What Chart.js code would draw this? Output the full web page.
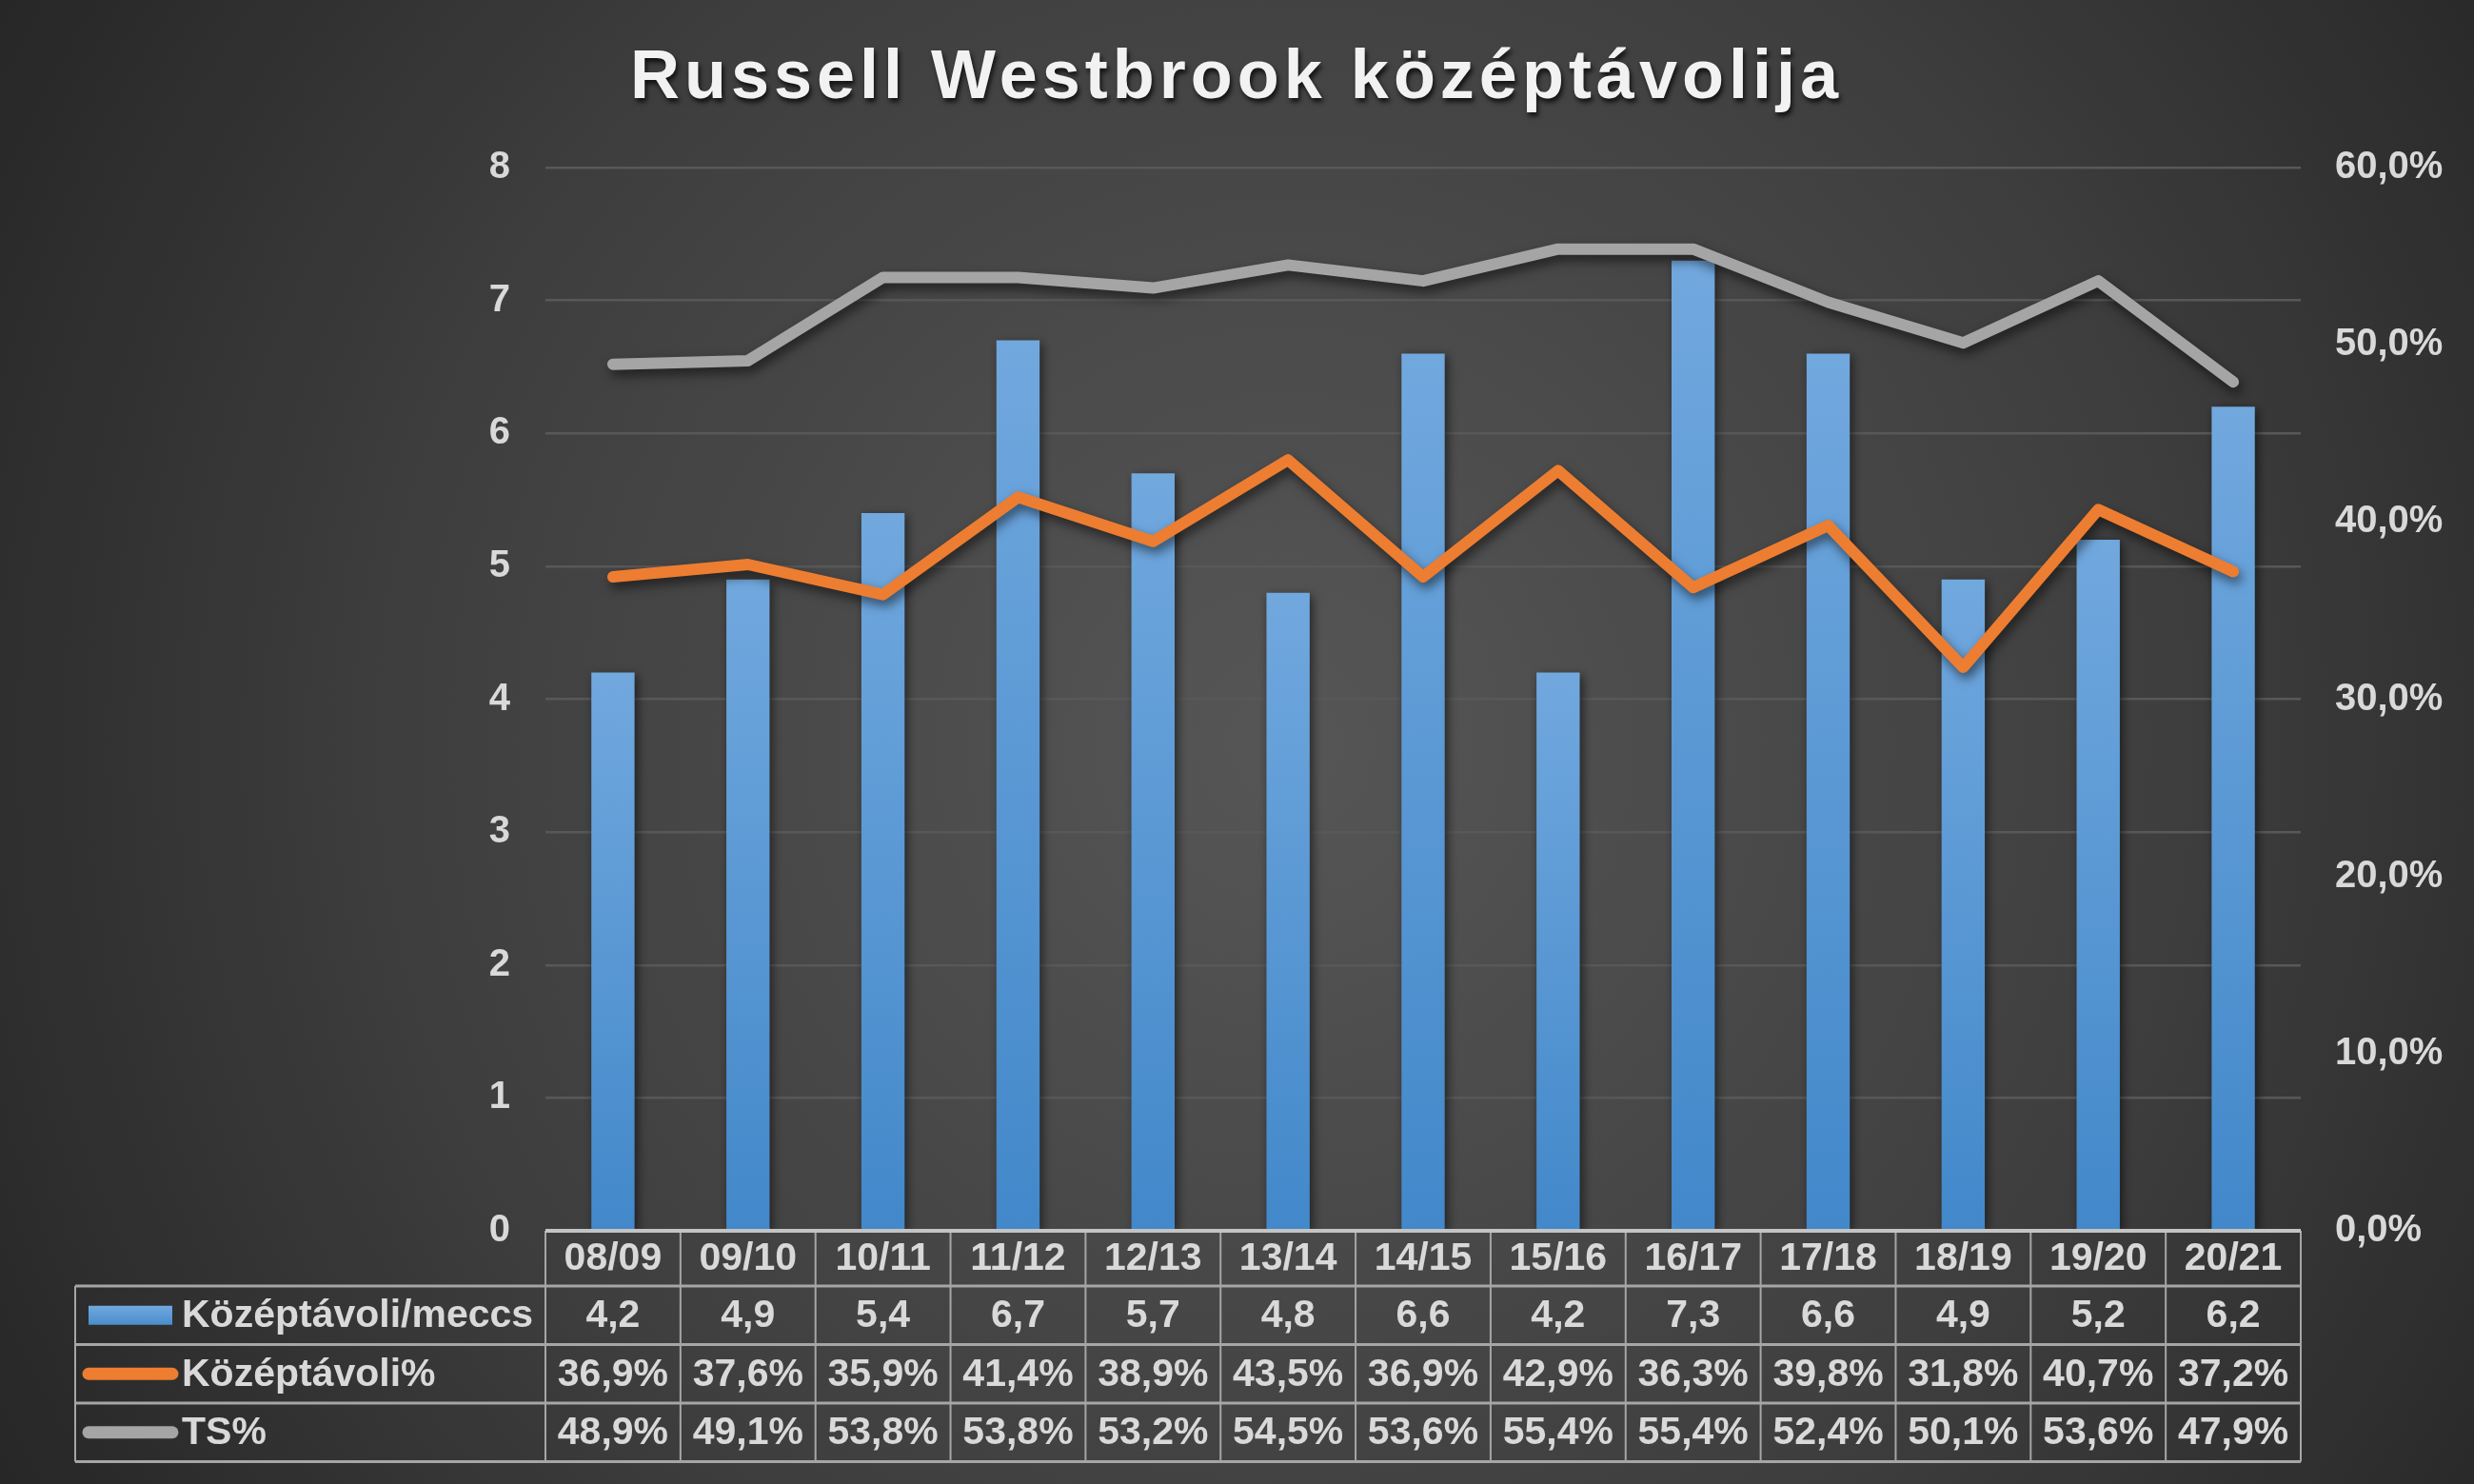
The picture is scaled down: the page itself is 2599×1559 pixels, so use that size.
<!DOCTYPE html>
<html>
<head>
<meta charset="utf-8">
<title>Russell Westbrook középtávolija</title>
<script src="https://cdn.jsdelivr.net/npm/chart.js@4.4.1/dist/chart.umd.min.js"></script>
<style>
  html, body { margin: 0; padding: 0; background: #2b2b2b; }
  canvas { display: block; }
</style>
</head>
<body>
<canvas id="midrange" width="2599" height="1559"></canvas>
<script>
var chartTitle = 'Russell Westbrook középtávolija';
var seasons = ['08/09', '09/10', '10/11', '11/12', '12/13', '13/14', '14/15', '15/16', '16/17', '17/18', '18/19', '19/20', '20/21'];
var perGame = [4.2, 4.9, 5.4, 6.7, 5.7, 4.8, 6.6, 4.2, 7.3, 6.6, 4.9, 5.2, 6.2];
var midPct = [36.9, 37.6, 35.9, 41.4, 38.9, 43.5, 36.9, 42.9, 36.3, 39.8, 31.8, 40.7, 37.2];
var tsPct = [48.9, 49.1, 53.8, 53.8, 53.2, 54.5, 53.6, 55.4, 55.4, 52.4, 50.1, 53.6, 47.9];
var seriesNames = ['Középtávoli/meccs', 'Középtávoli%', 'TS%'];

var FONT = "'Liberation Sans', Arial, sans-serif";
var TEXT = '#d9d9d9';

function fmt(v, d) {
    return v.toFixed(d).replace('.', ',');
}

Chart.defaults.font.family = FONT;
Chart.defaults.color = TEXT;

// dark radial background like the Excel style
var background = {
    id: 'background',
    beforeDraw: function(chart) {
        var ctx = chart.ctx;
        var g = ctx.createRadialGradient(1350, 780, 50, 1350, 780, 1600);
        g.addColorStop(0, '#555555');
        g.addColorStop(0.55, '#3f3f3f');
        g.addColorStop(1, '#252525');
        ctx.save();
        ctx.fillStyle = g;
        ctx.fillRect(0, 0, chart.width, chart.height);
        ctx.restore();
    }
};

// soft shadow under bars and lines
var shadows = {
    id: 'shadows',
    beforeDatasetDraw: function(chart, args) {
        var ctx = chart.ctx;
        ctx.save();
        ctx.shadowColor = 'rgba(0,0,0,0.55)';
        if (args.index === 0) {
            ctx.shadowOffsetX = 3;
            ctx.shadowOffsetY = 3;
            ctx.shadowBlur = 10;
        } else {
            ctx.shadowOffsetX = 3;
            ctx.shadowOffsetY = 6;
            ctx.shadowBlur = 12;
        }
    },
    afterDatasetDraw: function(chart) {
        chart.ctx.restore();
    }
};

var titleText = {
    id: 'titleText',
    afterDraw: function(chart) {
        var ctx = chart.ctx;
        ctx.save();
        ctx.font = 'bold 72px ' + FONT;
        ctx.letterSpacing = '5px';
        var w = ctx.measureText(chartTitle).width - 5;
        ctx.fillStyle = '#f2f2f2';
        ctx.shadowColor = 'rgba(0,0,0,0.75)';
        ctx.shadowOffsetX = 2;
        ctx.shadowOffsetY = 4;
        ctx.shadowBlur = 5;
        ctx.textBaseline = 'alphabetic';
        ctx.fillText(chartTitle, chart.width / 2 - w / 2 - 3, 103);
        ctx.restore();
    }
};

// data table under the plot, with legend keys
var dataTable = {
    id: 'dataTable',
    afterDraw: function(chart) {
        var ctx = chart.ctx, a = chart.chartArea;
        var n = seasons.length;
        var w = (a.right - a.left) / n;
        var legendLeft = 79;
        var lines = [a.bottom, a.bottom + 58, a.bottom + 119.5, a.bottom + 181, a.bottom + 242.5];
        var bottom = lines[4];

        ctx.save();
        ctx.strokeStyle = '#a6a6a6';

        ctx.lineWidth = 2;
        for (var i = 0; i <= n; i++) {
            var x = a.left + i * w;
            ctx.beginPath();
            ctx.moveTo(x, a.bottom);
            ctx.lineTo(x, bottom);
            ctx.stroke();
        }
        ctx.beginPath();
        ctx.moveTo(legendLeft, lines[1]);
        ctx.lineTo(legendLeft, bottom);
        ctx.stroke();

        ctx.lineWidth = 3;
        for (var r = 1; r < lines.length; r++) {
            ctx.beginPath();
            ctx.moveTo(legendLeft, lines[r]);
            ctx.lineTo(a.right, lines[r]);
            ctx.stroke();
        }
        ctx.strokeStyle = '#c4c4c4';
        ctx.lineWidth = 4;
        ctx.beginPath();
        ctx.moveTo(a.left, a.bottom);
        ctx.lineTo(a.right, a.bottom);
        ctx.stroke();

        ctx.fillStyle = TEXT;
        ctx.font = 'bold 41px ' + FONT;
        ctx.textAlign = 'center';
        ctx.textBaseline = 'middle';
        var rowsText = [
            seasons,
            perGame.map(function(v) { return fmt(v, 1); }),
            midPct.map(function(v) { return fmt(v, 1) + '%'; }),
            tsPct.map(function(v) { return fmt(v, 1) + '%'; })
        ];
        for (var k = 0; k < rowsText.length; k++) {
            var cy = (lines[k] + lines[k + 1]) / 2 + 1;
            for (var j = 0; j < n; j++) {
                ctx.fillText(rowsText[k][j], chart.scales.x.getPixelForValue(j), cy);
            }
        }

        // legend keys
        var keyColors = ['#5b9bd5', '#ed7d31', '#a5a5a5'];
        for (var s = 0; s < 3; s++) {
            var ky = (lines[s + 1] + lines[s + 2]) / 2;
            if (s === 0) {
                var g = ctx.createLinearGradient(0, ky - 10, 0, ky + 10);
                g.addColorStop(0, '#71a8de');
                g.addColorStop(1, '#4a8dcc');
                ctx.fillStyle = g;
                ctx.fillRect(93, ky - 10, 88, 20);
            } else {
                ctx.strokeStyle = keyColors[s];
                ctx.lineWidth = 13;
                ctx.lineCap = 'round';
                ctx.beginPath();
                ctx.moveTo(93, ky);
                ctx.lineTo(181, ky);
                ctx.stroke();
            }
            ctx.fillStyle = TEXT;
            ctx.textAlign = 'left';
            ctx.fillText(seriesNames[s], 191, ky + 1);
        }
        ctx.restore();
    }
};

var ctx = document.getElementById('midrange').getContext('2d');

var midrangeChart = new Chart(ctx, {
    type: 'bar',
    data: {
        labels: seasons,
        datasets: [{
            type: 'bar',
            label: seriesNames[0],
            data: perGame,
            yAxisID: 'y',
            order: 3,
            barPercentage: 0.32,
            categoryPercentage: 1,
            backgroundColor: function(c) {
                var chart = c.chart, area = chart.chartArea;
                if (!area || c.type !== 'data') return '#5b9bd5';
                var top = chart.scales.y.getPixelForValue(perGame[c.dataIndex]);
                var g = chart.ctx.createLinearGradient(0, top, 0, area.bottom);
                g.addColorStop(0, '#71a8de');
                g.addColorStop(1, '#4288ca');
                return g;
            }
        }, {
            type: 'line',
            label: seriesNames[1],
            data: midPct,
            yAxisID: 'y1',
            order: 1,
            borderColor: '#ed7d31',
            borderWidth: 12,
            borderCapStyle: 'round',
            borderJoinStyle: 'round',
            pointRadius: 0,
            tension: 0
        }, {
            type: 'line',
            label: seriesNames[2],
            data: tsPct,
            yAxisID: 'y1',
            order: 2,
            borderColor: '#a5a5a5',
            borderWidth: 12,
            borderCapStyle: 'round',
            borderJoinStyle: 'round',
            pointRadius: 0,
            tension: 0
        }]
    },
    options: {
        responsive: false,
        animation: false,
        layout: {
            padding: { top: 176, bottom: 266, left: 0, right: 0 }
        },
        plugins: {
            legend: { display: false },
            title: { display: false },
            tooltip: { enabled: false }
        },
        scales: {
            x: {
                display: false,
                offset: true
            },
            y: {
                position: 'left',
                min: 0,
                max: 8,
                afterFit: function(scale) { scale.width = 573; },
                border: { display: false },
                grid: { color: '#585858', lineWidth: 2.5, drawTicks: false },
                ticks: {
                    stepSize: 1,
                    padding: 37,
                    color: TEXT,
                    font: { size: 40, weight: 'bold' }
                }
            },
            y1: {
                position: 'right',
                min: 0,
                max: 60,
                afterFit: function(scale) { scale.width = 182; },
                border: { display: false },
                grid: { display: false, drawTicks: false },
                ticks: {
                    stepSize: 10,
                    padding: 36,
                    color: TEXT,
                    font: { size: 40, weight: 'bold' },
                    callback: function(v) { return fmt(v, 1) + '%'; }
                }
            }
        }
    },
    plugins: [background, shadows, titleText, dataTable]
});
</script>
</body>
</html>
